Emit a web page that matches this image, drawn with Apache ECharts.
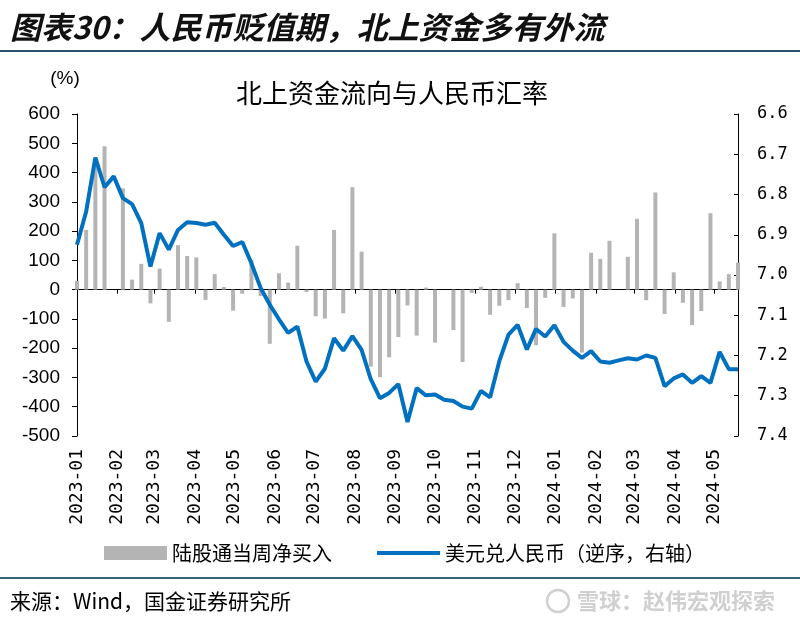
<!DOCTYPE html>
<html><head><meta charset="utf-8">
<script src="https://cdn.jsdelivr.net/npm/echarts@6/dist/echarts.min.js"></script>
<style>html,body{margin:0;padding:0;background:#fff}#c{width:800px;height:625px}</style>
</head><body><div id="c"></div>
<script>
// Weekly observation dates
const DATES = [
 '2023-01-06','2023-01-13','2023-01-20','2023-01-27','2023-02-03','2023-02-10','2023-02-17','2023-02-24',
 '2023-03-03','2023-03-10','2023-03-17','2023-03-24','2023-03-31','2023-04-07','2023-04-14','2023-04-21',
 '2023-04-28','2023-05-05','2023-05-12','2023-05-19','2023-05-26','2023-06-02','2023-06-09','2023-06-16',
 '2023-06-23','2023-06-30','2023-07-07','2023-07-14','2023-07-21','2023-07-28','2023-08-04','2023-08-11',
 '2023-08-18','2023-08-25','2023-09-01','2023-09-08','2023-09-15','2023-09-22','2023-09-29','2023-10-06',
 '2023-10-13','2023-10-20','2023-10-27','2023-11-03','2023-11-10','2023-11-17','2023-11-24','2023-12-01',
 '2023-12-08','2023-12-15','2023-12-22','2023-12-29','2024-01-05','2024-01-12','2024-01-19','2024-01-26',
 '2024-02-02','2024-02-09','2024-02-16','2024-02-23','2024-03-01','2024-03-08','2024-03-15','2024-03-22',
 '2024-03-29','2024-04-05','2024-04-12','2024-04-19','2024-04-26','2024-05-03','2024-05-10','2024-05-17',
 '2024-05-24'
];
// 陆股通当周净买入 (left axis)
const NORTHBOUND = [
  30, 204, 430, 490, 0, 346, 34, 88, -47, 72,
 -110, 152, 115, 110, -35, 53, 9, -72, -14, 102,
 -22, -185, 56, 24, 150, -8, -91, -99, 204, -81,
 350, 130, -263, -299, -231, -162, -54, -157, 7, -181,
  0, -138, -247, -11, 10, -86, -55, -36, 22, -63,
 -190, -28, 192, -59, -30, -215, 126, 105, 167, 0,
 112, 242, -36, 332, -83, 59, -45, -121, -73, 261,
  28, 53, 92
];
// 美元兑人民币 (right axis, inverted)
const USDCNY = [
 6.925, 6.842, 6.708, 6.782, 6.755, 6.809, 6.824, 6.871, 6.979, 6.896,
 6.937, 6.888, 6.869, 6.871, 6.875, 6.870, 6.900, 6.928, 6.918, 6.971,
 7.032, 7.074, 7.110, 7.144, 7.128, 7.215, 7.265, 7.233, 7.157, 7.188,
 7.152, 7.186, 7.259, 7.306, 7.293, 7.271, 7.365, 7.281, 7.299, 7.297,
 7.310, 7.313, 7.327, 7.332, 7.288, 7.304, 7.214, 7.148, 7.124, 7.185,
 7.134, 7.153, 7.125, 7.166, 7.188, 7.206, 7.189, 7.215, 7.218, 7.212,
 7.207, 7.210, 7.200, 7.206, 7.276, 7.257, 7.247, 7.268, 7.251, 7.268,
 7.191, 7.234, 7.234
];
// Month tick positions on the date axis
const TICK_DATES = ['2023-01-06','2023-02-06','2023-03-06','2023-04-06','2023-05-06','2023-06-06',
 '2023-07-06','2023-08-06','2023-09-06','2023-10-06','2023-11-06','2023-12-06','2024-01-06',
 '2024-02-06','2024-03-06','2024-04-06','2024-05-06'];
const LEFT_MIN = -500, LEFT_MAX = 600, LEFT_STEP = 100;
const RIGHT_MIN = 6.6, RIGHT_MAX = 7.4, RIGHT_STEP = 0.1;
const SERIES_BAR = '陆股通当周净买入';
const SERIES_LINE = '美元兑人民币（逆序，右轴）';

const MONO = '"DejaVu Sans Mono", "Liberation Mono", monospace';
const chart = echarts.init(document.getElementById('c'), null, {renderer: 'canvas'});
const ts = s => new Date(s + 'T00:00:00').getTime();
const pad2 = n => (n < 10 ? '0' : '') + n;
const fmtMonth = v => { const d = new Date(v); return d.getFullYear() + '-' + pad2(d.getMonth() + 1); };
const X_MIN = ts(DATES[0]), X_MAX = ts(DATES[DATES.length - 1]);
const TICKS = TICK_DATES.map(ts);

chart.setOption({
  animation: false,
  backgroundColor: '#fff',
  title: [
    {text: '图表30：人民币贬值期，北上资金多有外流', left: 10, top: 12, padding: 0,
     textStyle: {fontFamily: 'Noto Sans CJK SC', fontWeight: 'bold', fontStyle: 'italic', fontSize: 31, color: '#111'}},
    {text: '北上资金流向与人民币汇率', left: 236, top: 80, padding: 0,
     textStyle: {fontFamily: 'Noto Sans CJK SC', fontWeight: 'normal', fontSize: 26, color: '#000'}}
  ],
  legend: {
    left: 99, top: 538, itemWidth: 63, itemHeight: 14, itemGap: 45,
    textStyle: {fontFamily: 'Noto Sans CJK SC', fontSize: 20, color: '#000'},
    data: [{name: SERIES_BAR, icon: 'rect'}, {name: SERIES_LINE, icon: 'path://M0,0L63,0L63,4L0,4Z'}]
  },
  grid: {left: 77, right: 62, top: 114, bottom: 189},
  xAxis: [
    {type: 'value', min: X_MIN, max: X_MAX, position: 'bottom', scale: true,
     axisLine: {show: true, onZero: true, lineStyle: {color: '#000', width: 1}},
     axisTick: {show: true, customValues: TICKS, length: 4, lineStyle: {color: '#000'}},
     axisLabel: {show: false, customValues: TICKS}, splitLine: {show: false}},
    {type: 'value', min: X_MIN, max: X_MAX, position: 'bottom', scale: true,
     axisLine: {show: false, onZero: false}, axisTick: {show: false}, splitLine: {show: false},
     axisLabel: {show: true, customValues: TICKS, rotate: 90, margin: 13,
       fontFamily: MONO, fontSize: 18, color: '#000', formatter: v => fmtMonth(v)}}
  ],
  yAxis: [
    {type: 'value', min: LEFT_MIN, max: LEFT_MAX, interval: LEFT_STEP, position: 'left',
     name: '(%)', nameLocation: 'end', nameGap: 26,
     nameTextStyle: {fontFamily: 'Liberation Sans', fontSize: 19, color: '#000', padding: [0, 24, 0, 0]},
     axisLine: {show: true, onZero: false, lineStyle: {color: '#000', width: 1}},
     axisTick: {show: true, length: 5, lineStyle: {color: '#000'}},
     axisLabel: {fontFamily: 'Liberation Sans', fontSize: 19, color: '#000', margin: 17},
     splitLine: {show: false}},
    {type: 'value', min: RIGHT_MIN, max: RIGHT_MAX, interval: RIGHT_STEP, position: 'right', inverse: true,
     axisLine: {show: true, onZero: false, lineStyle: {color: '#000', width: 1}},
     axisTick: {show: true, inside: true, length: 4, lineStyle: {color: '#000'}},
     axisLabel: {fontFamily: MONO, fontSize: 17, color: '#000', margin: 19,
       formatter: v => v.toFixed(1)},
     splitLine: {show: false}}
  ],
  series: [
    {name: SERIES_BAR, type: 'bar', xAxisIndex: 0, yAxisIndex: 0, barWidth: 4,
     itemStyle: {color: '#b4b4b4'}, z: 2,
     data: DATES.map((d, i) => [ts(d), NORTHBOUND[i]])},
    {name: SERIES_LINE, type: 'line', xAxisIndex: 0, yAxisIndex: 1, symbol: 'none', z: 3,
     lineStyle: {color: '#0070c0', width: 4}, itemStyle: {color: '#0070c0'},
     data: DATES.map((d, i) => [ts(d), USDCNY[i]])}
  ],
  graphic: [
    {type: 'line', shape: {x1: 0, y1: 51, x2: 800, y2: 51}, style: {stroke: '#2b4f6e', lineWidth: 2}},
    {type: 'line', shape: {x1: 0, y1: 578, x2: 800, y2: 578}, style: {stroke: '#3b6478', lineWidth: 2}},
    {type: 'text', x: 10, y: 601, style: {text: '来源：Wind，国金证券研究所', fill: '#000',
      font: '21px "Noto Sans CJK SC"', verticalAlign: 'middle'}},
    {type: 'circle', shape: {cx: 558, cy: 601, r: 11}, style: {fill: 'none', stroke: '#d0d0d0', lineWidth: 2.5}},
    {type: 'text', x: 577, y: 601, style: {text: '雪球：赵伟宏观探索', fill: '#d0d0d0',
      font: 'bold 22px "Noto Sans CJK SC"', verticalAlign: 'middle'}}
  ]
});
</script></body></html>
